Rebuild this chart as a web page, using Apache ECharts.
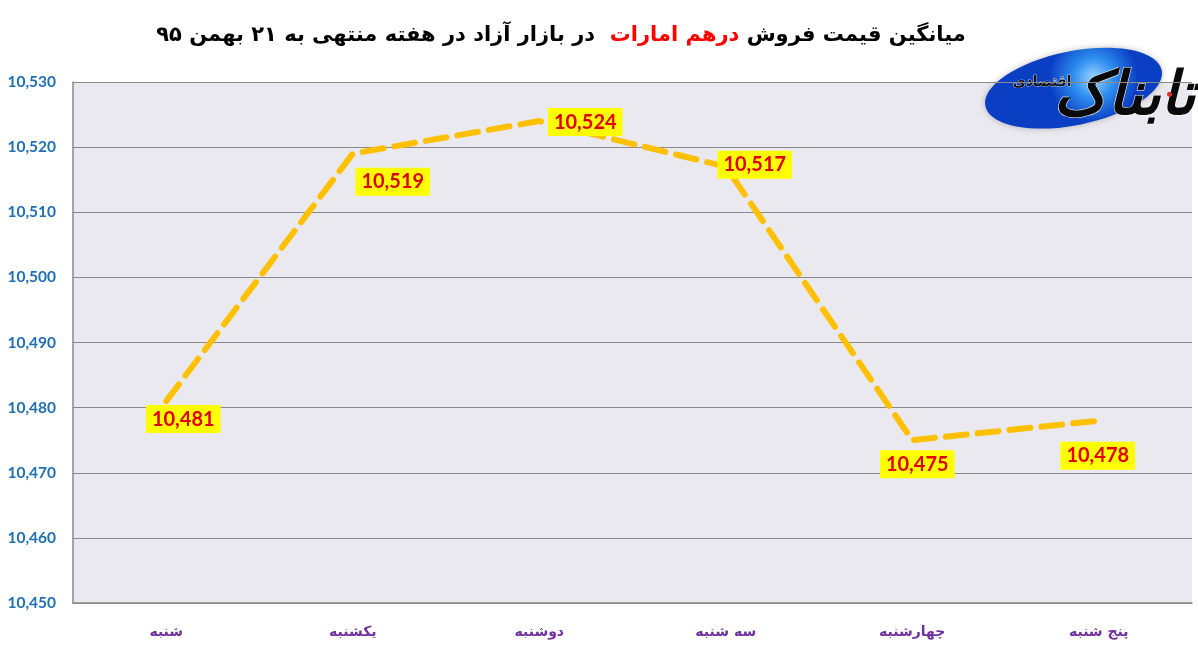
<!DOCTYPE html>
<html dir="ltr"><head><meta charset="utf-8">
<script src="https://cdn.jsdelivr.net/npm/echarts@6/dist/echarts.min.js"></script>
<style>html,body{margin:0;padding:0;background:#fff}#c{width:1198px;height:654px}</style>
</head><body><div id="c"></div>
<script>
const categories = ['شنبه', 'یکشنبه', 'دوشنبه', 'سه شنبه', 'چهارشنبه', 'پنج شنبه'];
const prices = [10481, 10519, 10524, 10517, 10475, 10478];
const yTicks = [10450, 10460, 10470, 10480, 10490, 10500, 10510, 10520, 10530];
const titleStart = 'میانگین قیمت فروش';
const titleRed = 'درهم امارات';
const titleEnd = 'در بازار آزاد در هفته منتهی به ۲۱ بهمن ۹۵';
const labelOffsets = [[17, 18], [40, 28], [46, 1], [29, -2], [5, 24], [-1, 35]];

const fmt = v => v.toLocaleString('en-US');

const chart = echarts.init(document.getElementById('c'));
chart.setOption({
  backgroundColor: '#ffffff',
  animation: false,
  title: {
    // rich tokens are placed left to right, so the right-to-left sentence is given end first
    text: '{a|' + titleEnd + '}{a|  }{r|' + titleRed + '}{a| }{a|' + titleStart + '}',
    left: 556, top: 20, textAlign: 'center',
    textStyle: {
      rich: {
        a: { fontFamily: 'DejaVu Sans', fontWeight: 'bold', fontSize: 21, color: '#000' },
        r: { fontFamily: 'DejaVu Sans', fontWeight: 'bold', fontSize: 21, color: '#FF0000' }
      }
    }
  },
  grid: { left: 73, right: 6, top: 82, bottom: 51, show: true, backgroundColor: '#EAE9EF', borderWidth: 0 },
  xAxis: {
    type: 'category', data: categories, boundaryGap: true,
    axisLine: { show: true, lineStyle: { color: '#8a8a8a', width: 1.5 } },
    axisTick: { show: false },
    axisLabel: { margin: 22,
      color: '#7030A0', fontFamily: 'DejaVu Sans', fontWeight: 'bold', fontSize: 14 }
  },
  yAxis: {
    type: 'value', min: yTicks[0], max: yTicks[yTicks.length - 1], interval: 10,
    axisLine: { show: true, lineStyle: { color: '#8a8a8a', width: 1.5 } },
    axisTick: { show: false },
    splitLine: { show: true, lineStyle: { color: '#8a8a8a', width: 1.2 } },
    axisLabel: { color: '#1F6FB5', fontFamily: 'Lato', fontWeight: 'bold', fontSize: 15.5, margin: 17,
      formatter: v => fmt(v) }
  },
  series: [{
    type: 'line',
    data: prices.map((v, i) => ({
      value: v,
      label: { offset: labelOffsets[i] }
    })),
    symbol: 'circle', symbolSize: 1,
    itemStyle: { color: 'rgba(0,0,0,0)' },
    lineStyle: { color: '#FFC000', width: 6, type: [21, 11], cap: 'round' },
    label: {
      show: true, position: 'inside',
      formatter: p => fmt(p.value),
      backgroundColor: '#FFFF00', color: '#E00000',
      fontFamily: 'Lato', fontWeight: 'bold', fontSize: 20,
      padding: [5, 6, 3, 6]
    },
    z: 3
  }],
  graphic: [
    {
      type: 'group', left: 978, top: 34, z: 100,
      children: [
        { type: 'ellipse', shape: { cx: 94, cy: 42, rx: 90, ry: 37 }, rotation: 0.2, originX: 94, originY: 42,
          style: { fill: new echarts.graphic.RadialGradient(0.62, 0.42, 0.6, [
            { offset: 0, color: '#9fd4ff' }, { offset: 0.45, color: '#2f8ff0' }, { offset: 1, color: '#0a3fc4' }]),
            shadowBlur: 6, shadowColor: 'rgba(0,0,0,0.25)' } },
        { type: 'text', x: 216, y: 52, style: { text: 'تابناک', fill: '#0a0a0a', font: 'italic bold 60px "DejaVu Sans"',
            textAlign: 'right', textVerticalAlign: 'middle', stroke: '#ffffff', lineWidth: 1 } },
        { type: 'text', x: 92, y: 36, style: { text: 'اقتصادی', fill: '#111', font: 'bold 14px "DejaVu Sans"',
            textAlign: 'right', textVerticalAlign: 'middle', stroke: '#ffffff', lineWidth: 0.6 } },
        { type: 'circle', shape: { cx: 190, cy: 48, r: 2.5 }, style: { fill: '#e03030' } }
      ]
    }
  ]
});
</script></body></html>
